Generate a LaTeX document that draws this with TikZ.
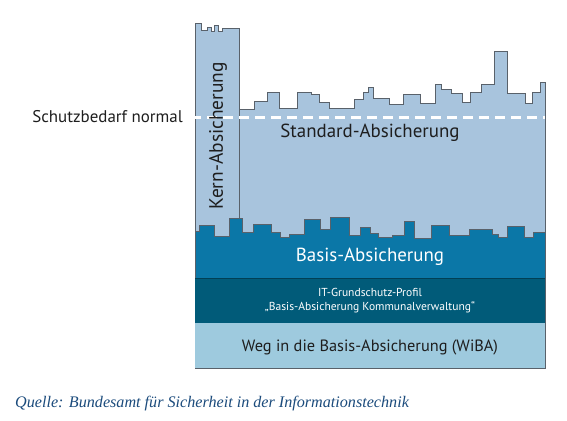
\documentclass[tikz,border=0pt]{standalone}
\usepackage{fontspec}
\setmainfont{PT Sans}
\newfontfamily\quellefont{Liberation Serif}
\usepackage{xcolor}
\usepackage{tikz}
\usetikzlibrary{positioning}
\definecolor{hellblau}{HTML}{A8C4DD}
\definecolor{basisblau}{HTML}{0B77A7}
\definecolor{profilblau}{HTML}{015B79}
\definecolor{wibablau}{HTML}{9ECADE}
\definecolor{rand}{HTML}{59616A}
\definecolor{schrift}{HTML}{1E1E1E}
\definecolor{quelle}{HTML}{1B4B7C}

\begin{document}
\begin{tikzpicture}[x=1bp,y=-1bp,
  umriss/.style={draw=rand,line width=0.9bp},
  schild/.style={font=\fontsize{19}{22}\selectfont,text=schrift,inner sep=0pt}]
  \useasboundingbox (0,0) rectangle (567,420);
  % Standard-Absicherung
  \filldraw[fill=hellblau,umriss] (239,278) -- (239,109) -| (254,101) -| (267,92)
    -| (279,108) -| (297,92) -| (311,94) -| (319,102) -| (329,108) -| (354,99)
    -| (363,92) -| (368,87) -| (373,98) -| (389,104) -| (403,94) -| (420,103)
    -| (435,84) -| (441,89) -| (451,93) -| (462,102) -| (470,92) -| (481,84)
    -| (494,51) -| (507,93) -| (525,103) -| (532,92) -| (540,82) -| (545,278) -- cycle;
  % Kern-Absicherung
  \filldraw[fill=hellblau,umriss] (195,278) -- (195,23) -| (201,30) -| (207,27)
    -| (211,31) -| (214,25) -| (218,31) -| (222,28) -| (239,278) -- cycle;
  % Basis-Absicherung
  \filldraw[fill=basisblau,umriss] (195,278) -- (195,231) -| (199,225) -| (214,236)
    -| (229,218) -| (242,232) -| (253,224) -| (271,232) -| (280,237) -| (289,234)
    -| (304,219) -| (320,229) -| (330,217) -| (349,235) -| (360,227) -| (370,233)
    -| (378,237) -| (392,235) -| (404,221) -| (414,238) -| (431,225) -| (449,235)
    -| (469,229) -| (492,234) -| (498,237) -| (507,226) -| (524,237) -| (533,232)
    -| (545,278) -- cycle;
  \foreach \oben/\unten/\farbe in {278/323/profilblau,323/368/wibablau}{
    \fill[\farbe] (195,\oben) rectangle (545,\unten);
  }
  \draw[profilblau!70!black,line width=1bp] (195,278) -- (545,278);
  \draw[umriss] (545,82) -- (545,368) -- (195,368);
  % Schutzbedarf
  \draw[white,line width=3bp,dash pattern=on 10bp off 6bp] (191,117) -- (545,117);

  \node[schild,anchor=east,font=\fontsize{17}{20}\selectfont] (schutz) at (183,117) {Schutzbedarf normal};
  \node[schild] (standard) at (370,133) {Standard-Absicherung};
  \node[schild,rotate=90,font=\fontsize{19.5}{22}\selectfont] (kern) at (218,136) {Kern-Absicherung};
  \node[schild,text=white] (basis) at (370,257) {Basis-Absicherung};
  \node[schild,text=white,font=\fontsize{11.6}{13.5}\selectfont,align=center] (profil) at (370,300.5)
    {IT-Grundschutz-Profil\\„Basis-Absicherung Kommunalverwaltung“};
  \node[schild,font=\fontsize{16.4}{19}\selectfont] (wiba) at (370,347) {Weg in die Basis-Absicherung (WiBA)};
  \node[anchor=west,inner sep=0pt,text=quelle,font=\quellefont\itshape\fontsize{16.2}{19}\selectfont] (quelle) at (15,404)
    {Quelle: Bundesamt für Sicherheit in der Informationstechnik};
\end{tikzpicture}
\end{document}
